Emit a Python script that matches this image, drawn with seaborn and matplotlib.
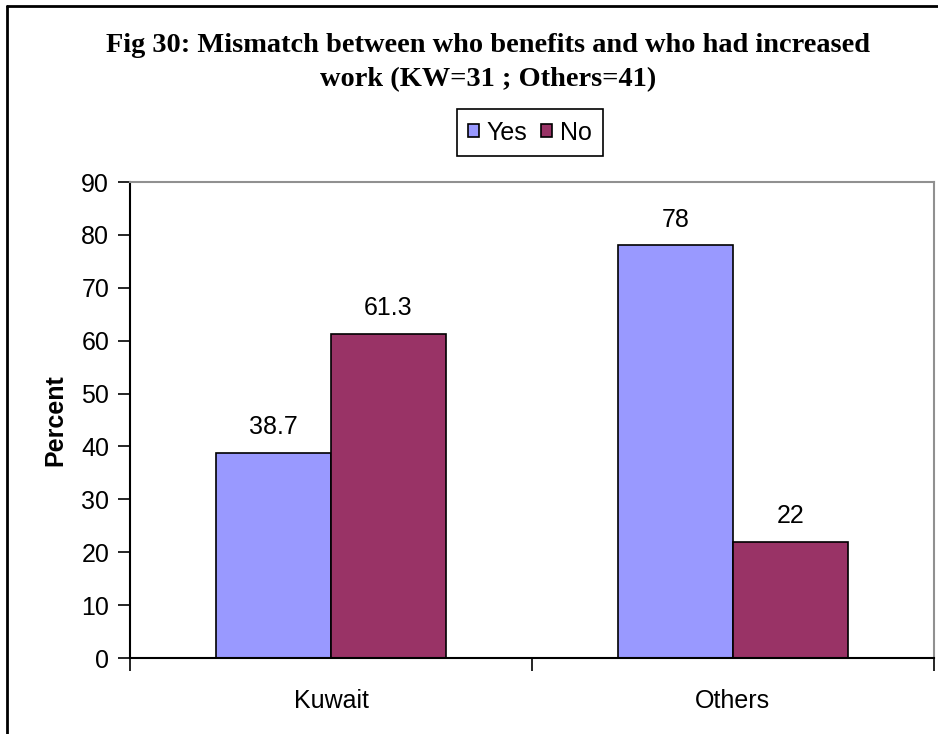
import pandas as pd
import seaborn as sns
from matplotlib import pyplot as plt
from matplotlib.lines import Line2D

regions = ['Kuwait', 'Others']
yes_values = [38.7, 78]
no_values = [61.3, 22]
answers = ['Yes', 'No']
title = 'Fig 30: Mismatch between who benefits and who had increased\nwork (KW=31 ; Others=41)'

df = pd.DataFrame({
    'region': regions * 2,
    'answer': ['Yes'] * len(regions) + ['No'] * len(regions),
    'percent': yes_values + no_values,
})

sns.set_style('white')
plt.rcParams['font.family'] = ['Liberation Sans', 'DejaVu Sans']
plt.rcParams['text.color'] = 'black'
plt.rcParams['axes.labelcolor'] = 'black'
plt.rcParams['xtick.color'] = 'black'
plt.rcParams['ytick.color'] = 'black'

fs = 18

fig = plt.figure(figsize=(9.38, 7.34), dpi=100)
ax = fig.add_axes([0.1386, 0.1035, 0.857, 0.6485])

sns.barplot(data=df, x='region', y='percent', hue='answer', hue_order=answers,
            palette={'Yes': '#9999FF', 'No': '#993366'}, width=0.572,
            edgecolor='black', linewidth=1.2, saturation=1, ax=ax)

for cont in ax.containers:
    ax.bar_label(cont, fmt='%g', padding=10, fontsize=fs)

ax.set_ylim(0, 90)
ax.set_yticks(range(0, 91, 10))
ax.set_xlim(-0.5, 1.5)
ax.set_xticks([-0.5, 0.5, 1.5], minor=True)
ax.tick_params(axis='x', which='major', length=0, pad=22, labelsize=fs)
ax.tick_params(axis='x', which='minor', length=9, width=1.2, direction='out', bottom=True)
ax.tick_params(axis='y', length=9, width=1.2, direction='out', left=True, labelsize=fs, pad=6)
ax.set_xlabel('')
ax.set_ylabel('Percent', fontsize=fs, fontweight='bold', labelpad=10)

for side in ['left', 'bottom']:
    ax.spines[side].set_color('black')
    ax.spines[side].set_linewidth(1.5)
for side in ['top', 'right']:
    ax.spines[side].set_visible(True)
    ax.spines[side].set_color('#909090')
    ax.spines[side].set_linewidth(1.5)

ax.legend(loc='center', bbox_to_anchor=(0.4975, 1.104), ncol=2, fontsize=fs,
          frameon=True, edgecolor='black', fancybox=False, framealpha=1,
          handlelength=0.45, handleheight=0.45, handletextpad=0.3, columnspacing=0.55,
          borderpad=0.45)
ax.get_legend().get_frame().set_linewidth(1.2)

fig.text(0.52, 0.915, title, ha='center', va='center', fontsize=20.4,
         fontweight='bold', family=['Liberation Serif'], linespacing=1.5)

# outer frame, only left and top edges show in the reference
fig.add_artist(Line2D([7 / 938, 7 / 938], [0, 1 - 6 / 734], color='black', lw=2))
fig.add_artist(Line2D([7 / 938, 1], [1 - 6 / 734, 1 - 6 / 734], color='black', lw=2))

fig.savefig('out.png', dpi=100)
